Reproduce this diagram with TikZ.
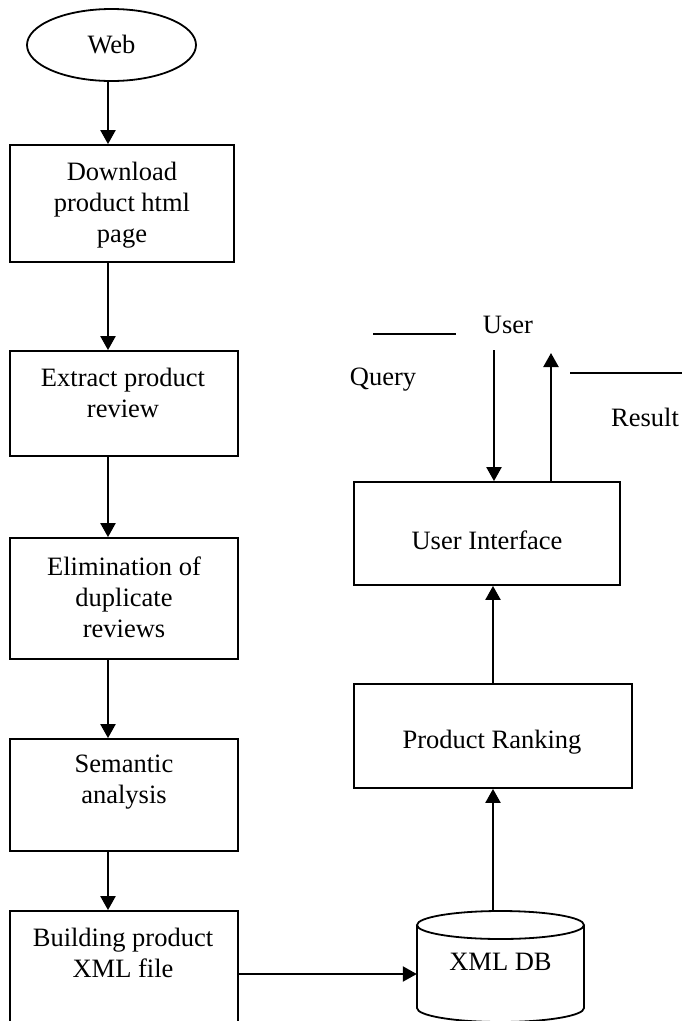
\documentclass[tikz,border=0pt]{standalone}
\usepackage{fontspec}
\setmainfont{Liberation Serif}
\usetikzlibrary{arrows.meta,shapes.geometric}
\begin{document}
\begin{tikzpicture}[x=1pt,y=-1pt,
  box/.style={draw, line width=1.8pt, inner sep=0pt},
  lbl/.style={font=\fontsize{26.5}{31}\selectfont, align=center, inner sep=0pt},
  arr/.style={line width=2.2pt, -{Triangle[width=15pt,length=14pt]}},
  rule/.style={line width=1.8pt}]
\useasboundingbox (0,0) rectangle (687,1021);

% guide coordinates for connector columns / rows
\coordinate (lx) at (108,0);
\coordinate (px) at (493,0);
\coordinate (hy) at (0,974);

% left column: acquisition pipeline
\node[box, ellipse, lbl, minimum width=169pt, minimum height=72pt] (web) at (111.5,45) {Web};

\node[box, minimum width=224pt, minimum height=117pt] (b1) at (122,203.5) {};
\node[lbl] (t1) at (122,205) {Download\\product html\\page};

\node[box, minimum width=228pt, minimum height=105pt] (b2) at (124,403.5) {};
\node[lbl] (t2) at (123,393) {Extract product\\review};

\node[box, minimum width=228pt, minimum height=121pt] (b3) at (124,598.5) {};
\node[lbl] (t3) at (124,597) {Elimination of\\duplicate\\reviews};

\node[box, minimum width=228pt, minimum height=112pt] (b4) at (124,795) {};
\node[lbl] (t4) at (124,782) {Semantic\\analysis};

\node[box, minimum width=228pt, minimum height=130pt] (b5) at (124,976) {};
\node[lbl] (t5) at (123,953) {Building product\\XML file};

% database cylinder
\draw[rule] (417,925) -- (417,1008)
  arc[start angle=180, end angle=360, x radius=83.5pt, y radius=14pt] -- (584,925);
\draw[rule] (500.5,925) ellipse [x radius=83.5pt, y radius=14pt];
\node[lbl, minimum width=167pt, minimum height=102pt] (db) at (500.5,962) {XML DB};

% right column: ranking and interface
\node[box, minimum width=278pt, minimum height=104pt] (pr) at (493,736) {};
\node[lbl] (tpr) at (492,742) {Product Ranking};

\node[box, minimum width=266pt, minimum height=103pt] (ui) at (487,533.5) {};
\node[lbl] (tui) at (487,540) {User Interface};

% user side
\node[lbl] (user) at (508,325) {User};
\node[lbl] (query) at (383,380) {Query};
\node[lbl] (result) at (645,417) {Result};
\draw[rule] (373,334) -- (456,334);
\draw[rule] (570,373) -- (682,373);
\coordinate (qtop) at (494,350);
\coordinate (rtop) at (551,353);

% connectors
\draw[arr] (web.south -| lx) -- (b1.north -| lx);
\draw[arr] (b1.south -| lx) -- (b2.north -| lx);
\draw[arr] (b2.south -| lx) -- (b3.north -| lx);
\draw[arr] (b3.south -| lx) -- (b4.north -| lx);
\draw[arr] (b4.south -| lx) -- (b5.north -| lx);
\draw[arr] (b5.east |- hy) -- (db.west |- hy);
\draw[arr] (db.north -| px) -- (pr.south -| px);
\draw[arr] (pr.north -| px) -- (ui.south -| px);
\draw[arr] (qtop) -- (ui.north -| qtop);
\draw[arr] (ui.north -| rtop) -- (rtop);
\end{tikzpicture}
\end{document}
